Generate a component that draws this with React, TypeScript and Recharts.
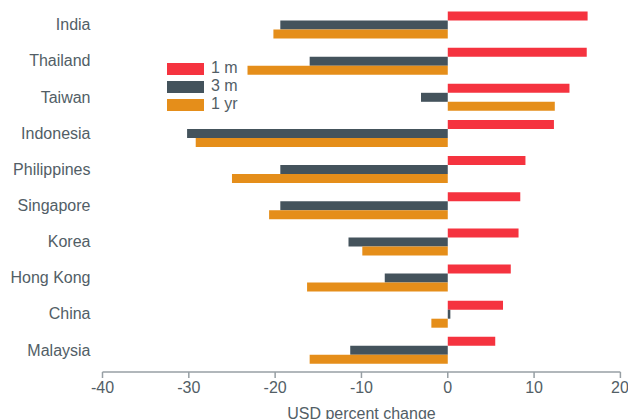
import { Bar, BarChart, Legend, XAxis, YAxis } from "recharts";

const countries = ["India", "Thailand", "Taiwan", "Indonesia", "Philippines", "Singapore", "Korea", "Hong Kong", "China", "Malaysia"];
const oneMonth = [16.2, 16.1, 14.1, 12.3, 9.0, 8.4, 8.2, 7.3, 6.4, 5.5];
const threeMonth = [-19.4, -16.0, -3.1, -30.2, -19.4, -19.4, -11.5, -7.3, 0.3, -11.3];
const oneYear = [-20.2, -23.2, 12.4, -29.2, -25.0, -20.7, -9.9, -16.3, -1.9, -16.0];
const xTicks = [-40, -30, -20, -10, 0, 10, 20];

const SERIES = [
  { key: "m1", label: "1 m", color: "#F5333F" },
  { key: "m3", label: "3 m", color: "#44535C" },
  { key: "y1", label: "1 yr", color: "#E58E1A" },
];

const data = countries.map((name, i) => ({
  name,
  m1: oneMonth[i],
  m3: threeMonth[i],
  y1: oneYear[i],
}));

const TEXT = "#525e66";
const AXIS = "#979fa4";

function LegendBox() {
  return (
    <div style={{ display: "flex", flexDirection: "column", gap: 6 }}>
      {SERIES.map((s) => (
        <div key={s.key} style={{ display: "flex", alignItems: "center", height: 12 }}>
          <span style={{ width: 37, height: 12, background: s.color, display: "inline-block" }} />
          <span style={{ marginLeft: 7, marginTop: -3, fontSize: 16, color: TEXT, lineHeight: "12px" }}>{s.label}</span>
        </div>
      ))}
    </div>
  );
}

export default function App() {
  return (
    <div style={{ position: "absolute", left: 0, top: 0, fontFamily: "'Liberation Sans', Arial, sans-serif" }}>
      <BarChart
        width={628}
        height={419}
        data={data}
        layout="vertical"
        barGap={0}
        margin={{ top: 6.5, right: 7.6, bottom: 0, left: 0 }}
      >
        <XAxis
          type="number"
          domain={[-40, 20]}
          ticks={xTicks}
          height={47}
          stroke={AXIS}
          strokeWidth={1.5}
          tickSize={6}
          tickMargin={4}
          tick={{ fill: TEXT, fontSize: 16 }}
          label={{ value: "USD percent change", position: "insideBottom", offset: 0, fill: TEXT, fontSize: 16 }}
        />
        <YAxis
          type="category"
          dataKey="name"
          width={102.5}
          axisLine={false}
          tickLine={false}
          tickSize={0}
          tickMargin={12}
          padding={{ top: 0, bottom: 4 }}
          tick={{ fill: TEXT, fontSize: 16 }}
        />
        <Legend
          content={<LegendBox />}
          layout="vertical"
          align="center"
          verticalAlign="middle"
          wrapperStyle={{ left: 167, top: 63, width: 90 }}
        />
        {SERIES.map((s) => (
          <Bar key={s.key} dataKey={s.key} name={s.label} fill={s.color} barSize={9} isAnimationActive={false} />
        ))}
      </BarChart>
    </div>
  );
}
